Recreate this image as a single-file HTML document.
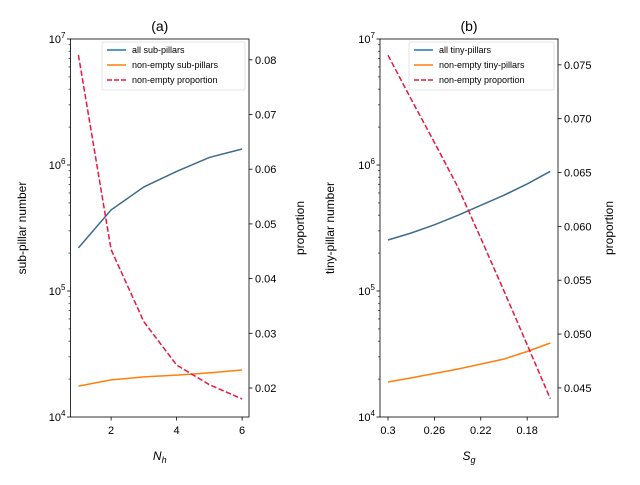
<!DOCTYPE html>
<html><head><meta charset="utf-8"><style>
body{margin:0;background:#fff}
svg{font-family:"Liberation Sans","DejaVu Sans",sans-serif}
</style></head><body>
<svg id="fig" width="640" height="480" viewBox="0 0 640 480" xmlns="http://www.w3.org/2000/svg"></svg>
<script>
const nhX = [1,2,3,4,5,6];
const subAll = [2.2e5,4.4e5,6.7e5,8.9e5,1.15e6,1.34e6];
const subNonEmpty = [1.76e4,1.97e4,2.08e4,2.15e4,2.24e4,2.36e4];
const subProp = [0.0809,0.0453,0.0321,0.0242,0.0206,0.018];
const nhTicks = [2,4,6];
const propTicksA = [0.02,0.03,0.04,0.05,0.06,0.07,0.08];

const sgX = [0.3,0.28,0.26,0.24,0.22,0.2,0.18,0.16];
const tinyAllLog = [5.405,5.46,5.525,5.60,5.68,5.76,5.85,5.95];
const tinyNonEmptyLog = [4.278,4.31,4.345,4.38,4.42,4.46,4.52,4.587];
const tinyProp = [0.0759,0.0718,0.0678,0.0637,0.0589,0.0540,0.0490,0.0440];
const sgTicks = [0.3,0.26,0.22,0.18];
const sgTickLabels = ["0.3","0.26","0.22","0.18"];
const propTicksB = [0.045,0.05,0.055,0.06,0.065,0.07,0.075];
const propTickLabelsB = ["0.045","0.050","0.055","0.060","0.065","0.070","0.075"];

const NS="http://www.w3.org/2000/svg";
const svg=document.getElementById('fig');
function el(tag,attrs,parent){const e=document.createElementNS(NS,tag);for(const k in attrs)e.setAttribute(k,attrs[k]);(parent||svg).appendChild(e);return e;}
function txt(x,y,s,attrs,parent){const t=el('text',Object.assign({x:x,y:y,'font-size':11,fill:'#000'},attrs),parent);t.textContent=s;return t;}

const TOP=39,BOT=417;
function logY(v){return BOT-(Math.log10(v)-4)/3*(BOT-TOP);}

function panel(cfg){
  const g=el('g',{});
  
  
  const L=cfg.L,R=cfg.R;
  const xs=v=>L+(v-cfg.x0)/(cfg.x1-cfg.x0)*(R-L);
  const py=v=>BOT-(v-cfg.p0)/(cfg.p1-cfg.p0)*(BOT-TOP);
  for(let d=4;d<=7;d++){
    const y=logY(Math.pow(10,d));
    el('line',{x1:L-3.5,x2:L,y1:y,y2:y,stroke:'#000','stroke-width':0.8},g);
    const t=txt(L-5,y+4,'10',{'text-anchor':'end','font-size':11},g);
    const s=el('tspan',{dy:-5,'font-size':8},t);s.textContent=d;
    
    if(d<7)for(let m=2;m<10;m++){const yy=logY(m*Math.pow(10,d));el('line',{x1:L-2,x2:L,y1:yy,y2:yy,stroke:'#000','stroke-width':0.6},g);}
  }
  cfg.xt.forEach((v,i)=>{const x=xs(v);el('line',{x1:x,x2:x,y1:BOT,y2:BOT+3.5,stroke:'#000','stroke-width':0.8},g);
    const t=txt(x,BOT+17,cfg.xl[i],{'text-anchor':'middle'},g);});
  cfg.pt.forEach((v,i)=>{const y=py(v);el('line',{x1:R,x2:R+3.5,y1:y,y2:y,stroke:'#000','stroke-width':0.8},g);
    const t=txt(R+6,y+4,cfg.pl[i],{},g);});
  function line(xv,yv,color,dash,name){
    const d=xv.map((v,i)=>(i?'L':'M')+xs(v).toFixed(1)+','+yv[i].toFixed(1)).join(' ');
    const p=el('path',{d:d,fill:'none',stroke:color,'stroke-width':1.5},g);
    if(dash)p.setAttribute('stroke-dasharray','5.5,2.4');
    
  }
  line(cfg.xv,cfg.all.map(logY),'#3d6b8e',null,'all-line');
  line(cfg.xv,cfg.ne.map(logY),'#ff7f0e',null,'non-empty-line');
  line(cfg.xv,cfg.pr.map(py),'#e8173f',true,'proportion-line');
  el('rect',{x:L,y:TOP,width:R-L,height:BOT-TOP,fill:'none',stroke:'#000','stroke-width':0.8},g);
  const tt=txt((L+R)/2,TOP-8,cfg.title,{'text-anchor':'middle','font-size':14},g);
  
  const yl=txt(0,0,cfg.ylab,{'text-anchor':'middle',transform:`translate(${cfg.ylx},${(TOP+BOT)/2}) rotate(-90)`,'font-size':12},g);
  
  const pl=txt(0,0,'proportion',{'text-anchor':'middle',transform:`translate(${R+55},${(TOP+BOT)/2}) rotate(-90)`,'font-size':12},g);
  
  const xl=txt((L+R)/2,BOT+43,cfg.xmain,{'text-anchor':'middle','font-style':'italic','font-size':12},g);
  const sub=el('tspan',{dy:3,'font-size':9},xl);sub.textContent=cfg.xsub;
  
  const lg=el('g',{},g);
  const lx=cfg.lgx,lw=R-4-lx;
  el('rect',{x:lx,y:TOP+3,width:lw,height:48,fill:'#fff','fill-opacity':0.8,stroke:'#ddd','stroke-width':0.8,rx:2},lg);
  const items=[[cfg.lg[0],'#1f77b4',null],[cfg.lg[1],'#ff7f0e',null],[cfg.lg[2],'#e8173f','5,2']];
  items.forEach((it,i)=>{const y=TOP+11+i*15;
    const ln=el('line',{x1:lx+5,x2:lx+24,y1:y,y2:y,stroke:it[1],'stroke-width':1.5},lg);if(it[2])ln.setAttribute('stroke-dasharray',it[2]);
    const t=txt(lx+30,y+3,it[0],{'font-size':9},lg);});
}

panel({name:'panel-a',L:70.5,R:249,x0:0.76,x1:6.21,p0:0.0147,p1:0.0838,
  xt:nhTicks,xl:nhTicks.map(String),pt:propTicksA,pl:propTicksA.map(v=>v.toFixed(2)),
  xv:nhX,all:subAll,ne:subNonEmpty,pr:subProp,title:'(a)',ylab:'sub-pillar number',ylx:26,
  xmain:'N',xsub:'h',lgx:102,lg:['all sub-pillars','non-empty sub-pillars','non-empty proportion']});
panel({name:'panel-b',L:380,R:558,x0:0.3069,x1:0.1534,p0:0.0423,p1:0.0774,
  xt:sgTicks,xl:sgTickLabels,pt:propTicksB,pl:propTickLabelsB,
  xv:sgX,all:tinyAllLog.map(v=>Math.pow(10,v)),ne:tinyNonEmptyLog.map(v=>Math.pow(10,v)),pr:tinyProp,title:'(b)',ylab:'tiny-pillar number',ylx:334,
  xmain:'S',xsub:'g',lgx:409,lg:['all tiny-pillars','non-empty tiny-pillars','non-empty proportion']});
</script>
</body></html>
